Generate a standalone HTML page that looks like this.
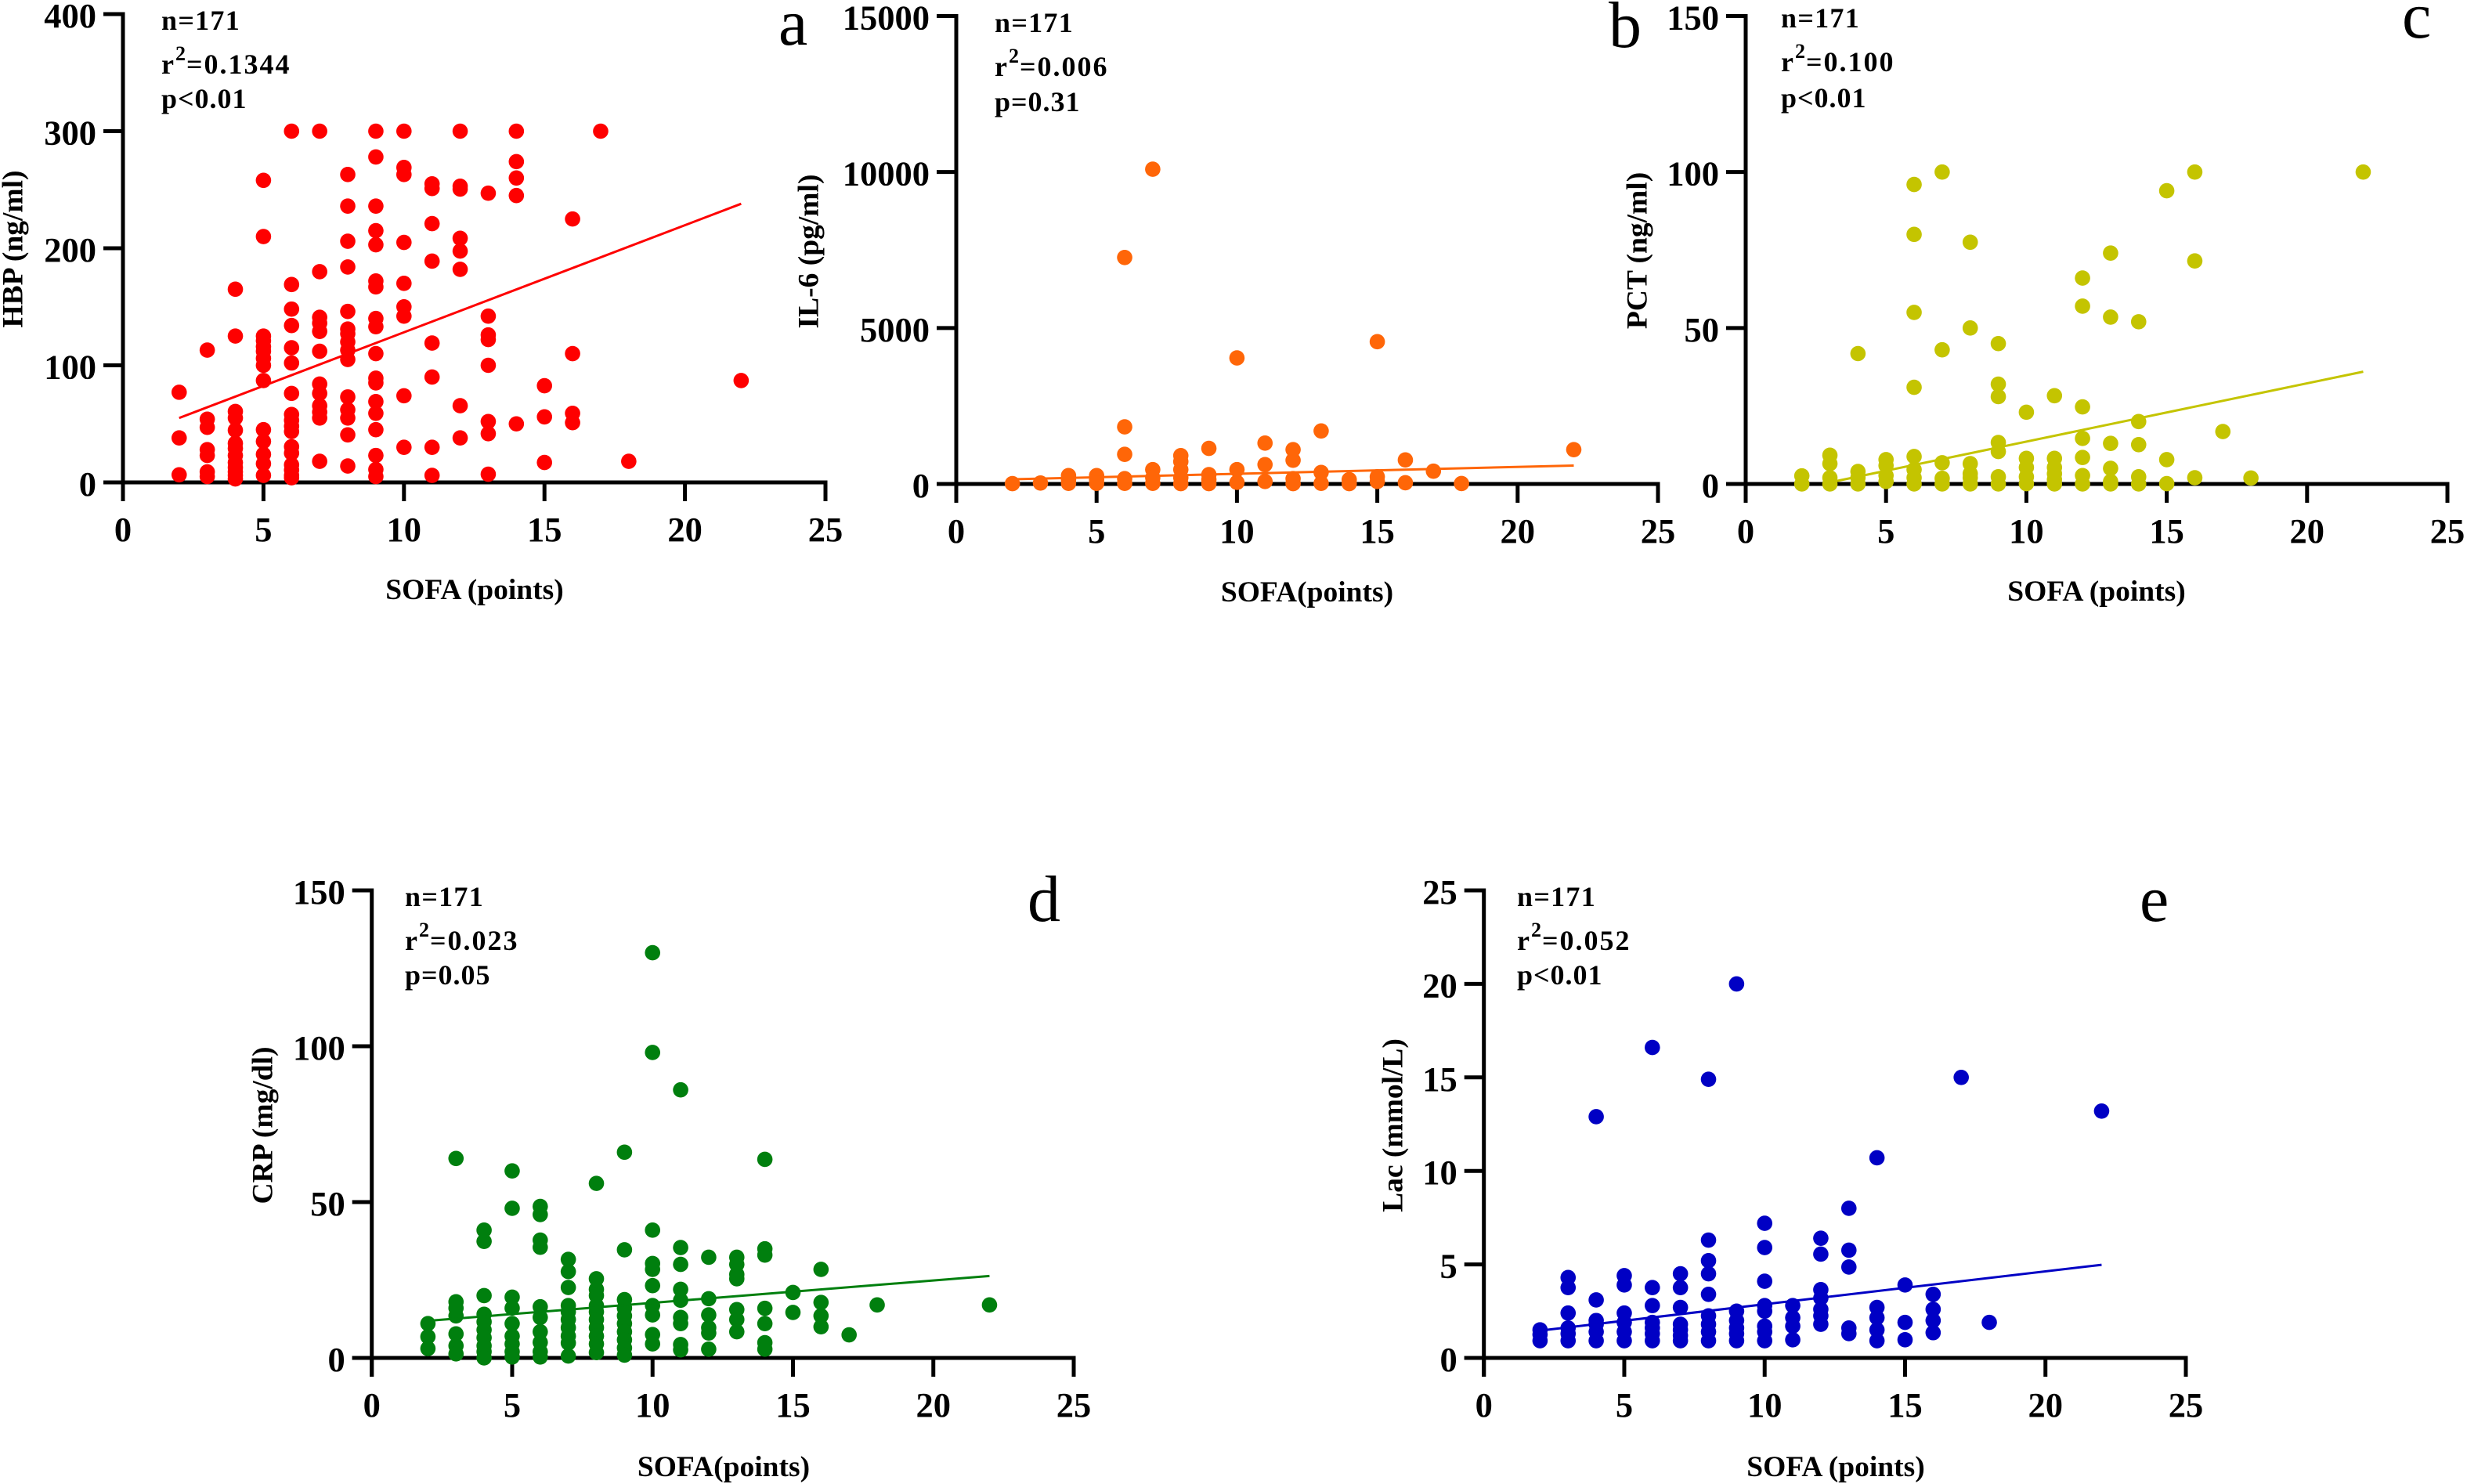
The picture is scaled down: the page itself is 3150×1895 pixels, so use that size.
<!DOCTYPE html>
<html lang="en">
<head>
<meta charset="utf-8">
<title>SOFA score correlations</title>
<style>
html,body{margin:0;padding:0;background:#fff;}
svg{display:block;}
text{font-family:"Liberation Serif",serif;fill:#000;}
.tick{font-size:44.5px;font-weight:bold;}
.title{font-size:37.5px;font-weight:bold;}
.note{font-size:36px;font-weight:bold;}
.n-line{letter-spacing:1.3px;}
.r-line{letter-spacing:2px;}
.p-line{letter-spacing:1px;}
.sup{font-size:26px;font-weight:bold;letter-spacing:1px;}
.letter{font-size:84px;font-weight:normal;}
</style>
</head>
<body>
<svg id="figure" xmlns="http://www.w3.org/2000/svg" width="3150" height="1895" viewBox="0 0 3150 1895">
  <rect width="3150" height="1895" fill="#fff"/>

  <g id="panel-a"></g>
  <g id="panel-b"></g>
  <g id="panel-c"></g>
  <g id="panel-d"></g>
  <g id="panel-e"></g>

  <!-- Panel a text -->
  <text class="note n-line" x="206" y="38">n=171</text>
  <text class="note r-line" x="206" y="94">r<tspan class="sup" dy="-17">2</tspan><tspan dy="17">=0.1344</tspan></text>
  <text class="note p-line" x="206" y="138">p&lt;0.01</text>
  <text class="letter" x="994" y="57">a</text>
  <text class="title" x="606" y="765" text-anchor="middle">SOFA (points)</text>
  <text class="title" transform="translate(28.5,318) rotate(-90)" text-anchor="middle">HBP (ng/ml)</text>

  <!-- Panel b text -->
  <text class="note n-line" x="1270" y="41">n=171</text>
  <text class="note r-line" x="1270" y="97">r<tspan class="sup" dy="-17">2</tspan><tspan dy="17">=0.006</tspan></text>
  <text class="note p-line" x="1270" y="142">p=0.31</text>
  <text class="letter" x="2054" y="60">b</text>
  <text class="title" x="1669" y="768" text-anchor="middle">SOFA(points)</text>
  <text class="title" transform="translate(1044.5,321) rotate(-90)" text-anchor="middle">IL-6 (pg/ml)</text>

  <!-- Panel c text -->
  <text class="note n-line" x="2274" y="35">n=171</text>
  <text class="note r-line" x="2274" y="91">r<tspan class="sup" dy="-17">2</tspan><tspan dy="17">=0.100</tspan></text>
  <text class="note p-line" x="2274" y="137">p&lt;0.01</text>
  <text class="letter" x="3067" y="48">c</text>
  <text class="title" x="2677" y="767" text-anchor="middle">SOFA (points)</text>
  <text class="title" transform="translate(2102.5,320) rotate(-90)" text-anchor="middle">PCT (ng/ml)</text>

  <!-- Panel d text -->
  <text class="note n-line" x="517" y="1157">n=171</text>
  <text class="note r-line" x="517" y="1213">r<tspan class="sup" dy="-17">2</tspan><tspan dy="17">=0.023</tspan></text>
  <text class="note p-line" x="517" y="1257">p=0.05</text>
  <text class="letter" x="1312" y="1176">d</text>
  <text class="title" x="924" y="1885" text-anchor="middle">SOFA(points)</text>
  <text class="title" transform="translate(347.5,1437) rotate(-90)" text-anchor="middle">CRP (mg/dl)</text>

  <!-- Panel e text -->
  <text class="note n-line" x="1937" y="1157">n=171</text>
  <text class="note r-line" x="1937" y="1213">r<tspan class="sup" dy="-17">2</tspan><tspan dy="17">=0.052</tspan></text>
  <text class="note p-line" x="1937" y="1257">p&lt;0.01</text>
  <text class="letter" x="2732" y="1176">e</text>
  <text class="title" x="2344" y="1885" text-anchor="middle">SOFA (points)</text>
  <text class="title" transform="translate(1790.5,1437) rotate(-90)" text-anchor="middle">Lac (mmol/L)</text>
</svg>

<script>
// Shared category and tick arrays
const sofaScores = [2,3,4,5,6,7,8,9,10,11,12,13,14,15,16,17,18,22];
const xTickValues = [0,5,10,15,20,25];
const hbpTicks = [0,100,200,300,400];
const il6Ticks = [0,5000,10000,15000];
const pctTicks = [0,50,100,150];
const crpTicks = [0,50,100,150];
const lacTicks = [0,5,10,15,20,25];

// Measured values, one inner list per SOFA score
const hbpValues = [
  [77,38,6.5],
  [113,54,47,28,23,9,5],
  [165,125,60.6,55,44.6,33.4,29,23,17,12.7,9,6,3],
  [258,210,125,121,116,112,106,100,87,45,35,24,16,6],
  [300,169,148,134,115,102,76,58,53,48,43.5,30.5,25,15,10.5,6,4],
  [300,180,141,136,129,112,84,76,65.5,60,55,18],
  [263,236,206,184,146,131,127,120,113,105,73,62,55,40.6,14],
  [300,278,236,215,203,172,167,140,133,110,89,85,69,59,45,23,11,5],
  [300,269,263,205,170,150,142,74,30],
  [255,251,221,189,119,90,30,6],
  [300,253,250.5,208.5,197.6,182,65.5,38],
  [247,142,126,122,100,52,41.6,7],
  [300,274,260,245,50],
  [82.6,56,17],
  [225,110,59,51],
  [300],
  [18],
  [87]
];
const il6Values = [
  [10],
  [30],
  [270,140,20],
  [270,140,20],
  [7260,1830,950,170,20],
  [10090,460,200,20],
  [910,720,460,200,10],
  [1140,300,140,10],
  [4040,460,50],
  [1310,620,80],
  [1100,760,170,10],
  [1700,370,20],
  [140,10],
  [4560,230,80],
  [770,40],
  [410],
  [15],
  [1100]
];
const pctValues = [
  [2.6,0],
  [9.2,6.5,2,0],
  [41.8,4,2,0],
  [7.8,5.9,2.7,0.8],
  [96,80,55,31,8.8,4.6,2,0],
  [100,43,6.8,1.8,0],
  [77.5,50,6.5,3.3,2,0],
  [45,32,28,13.3,10.4,2.3,0],
  [23,8.2,5.3,2.3,0.1],
  [28.3,8.2,5.3,3.3,1.4,0],
  [66,57,24.7,14.6,8.5,2.7,0],
  [74,53.5,13,5,0.8,0],
  [52,20,12.6,2.3,0],
  [94,7.8,0.1],
  [100,71.5,2],
  [16.8],
  [1.9],
  [100]
];
const crpValues = [
  [11,6.8,3],
  [64,18,16,13.5,7.7,3.9,1.3],
  [41,37.4,20,14,11.6,9,6.5,3.9,2,0],
  [60,48,19.5,16,11,7,4.5,2,0.3],
  [48.6,46,37.8,35.5,16.4,13,8.4,5,2,0.3],
  [31.6,27.7,22.6,16.8,14.8,12.3,9.7,7,4.8,0.6],
  [56,25.4,22,20,16.8,14.8,12.3,9.7,7,4.5,1.7],
  [66,34.7,18.7,16,13.5,11,8.4,5.8,3.2,0.9],
  [130,98,41,30.3,28.4,23.2,16.8,13.8,7.5,4.5],
  [86,35.4,30,22,18.5,13,11,4.3,2.6],
  [32.3,19,13.8,9.7,8,2.8],
  [32.3,30,26.8,25.4,15.5,12.3,8.4],
  [63.7,35,33,15.9,11,4.9,2.8],
  [21,14.6],
  [28.4,17.8,13.5,10],
  [7.4],
  [17],
  [17]
];
const lacValues = [
  [1.5,1.25,0.92],
  [4.3,3.76,2.4,1.6,1.3,0.92],
  [12.9,3.1,2,1.8,1.4,0.92],
  [4.4,3.9,2.4,1.9,1.4,0.92],
  [16.6,3.76,2.8,1.9,1.6,1.3,0.92],
  [4.5,3.76,2.7,1.8,1.5,1.2,0.92],
  [14.9,6.3,5.2,4.5,3.4,2.25,1.8,1.4,0.92],
  [20,2.5,2,1.6,1.3,0.92],
  [7.2,5.9,4.1,2.8,2.5,1.7,1.4,0.92],
  [2.8,2.15,1.7,0.97],
  [6.4,5.55,3.65,3.2,2.6,2.25,1.8],
  [8,5.76,4.86,1.6,1.3],
  [10.7,2.7,2.15,1.5,0.92],
  [3.9,1.9,0.97],
  [3.4,2.6,2,1.35],
  [15],
  [1.9],
  [13.2]
];

// Regression line end points
const hbpFitX = [2,22];
const hbpFitY = [55,238];
const il6FitX = [2,22];
const il6FitY = [150,590];
const pctFitX = [3,22];
const pctFitY = [0.5,36];
const crpFitX = [2,22];
const crpFitY = [11.9,26.3];
const lacFitX = [2,22];
const lacFitY = [1.46,4.98];

const SVG_NS = 'http://www.w3.org/2000/svg';

function make(tag, parent, props) {
  const node = document.createElementNS(SVG_NS, tag);
  for (const key in props) node.setAttribute(key, props[key]);
  parent.appendChild(node);
  return node;
}

function linearScale(d0, d1, r0, r1) {
  return function (v) {
    return r0 + (v - d0) * (r1 - r0) / (d1 - d0);
  };
}

function drawPanel(cfg) {
  const group = document.getElementById(cfg.id);
  const yTicks = cfg.yTicks;
  const sx = linearScale(0, 25, cfg.left, cfg.right);
  const sy = linearScale(0, yTicks[yTicks.length - 1], cfg.bottom, cfg.top);
  const axisWidth = 5;

  const xAxis = make('line', group, {x1: cfg.left - 25, x2: cfg.right + axisWidth / 2, y1: cfg.bottom, y2: cfg.bottom, stroke: '#000', 'stroke-width': axisWidth});
  
  

  const yAxis = make('line', group, {x1: cfg.left, x2: cfg.left, y1: cfg.top - axisWidth / 2, y2: cfg.bottom + 24, stroke: '#000', 'stroke-width': axisWidth});
  
  

  xTickValues.forEach(function (t) {
    const mark = make('line', group, {x1: sx(t), x2: sx(t), y1: cfg.bottom, y2: cfg.bottom + 24, stroke: '#000', 'stroke-width': axisWidth});
    
    
    const label = make('text', group, {x: sx(t), y: cfg.bottom + 75, 'text-anchor': 'middle', class: 'tick'});
    label.textContent = String(t);
    
    
  });

  yTicks.forEach(function (t) {
    const mark = make('line', group, {x1: cfg.left - 25, x2: cfg.left, y1: sy(t), y2: sy(t), stroke: '#000', 'stroke-width': axisWidth});
    
    
    const label = make('text', group, {x: cfg.left - 34, y: sy(t) + 17, 'text-anchor': 'end', class: 'tick'});
    label.textContent = String(t);
    
    
  });

  sofaScores.forEach(function (score, i) {
    cfg.values[i].forEach(function (v) {
      const dot = make('circle', group, {cx: sx(score), cy: sy(v), r: 9.8, fill: cfg.color});
      
      
    });
  });

  const fit = make('line', group, {
    x1: sx(cfg.fitX[0]), y1: sy(cfg.fitY[0]),
    x2: sx(cfg.fitX[1]), y2: sy(cfg.fitY[1]),
    stroke: cfg.color, 'stroke-width': 3
  });
  
  
}

drawPanel({id: 'panel-a', left: 157, right: 1054, top: 18, bottom: 616, color: '#fe0000', yTicks: hbpTicks, values: hbpValues, fitX: hbpFitX, fitY: hbpFitY});
drawPanel({id: 'panel-b', left: 1221, right: 2117, top: 20.5, bottom: 618, color: '#ff6608', yTicks: il6Ticks, values: il6Values, fitX: il6FitX, fitY: il6FitY});
drawPanel({id: 'panel-c', left: 2229, right: 3125, top: 20.5, bottom: 618, color: '#c4c400', yTicks: pctTicks, values: pctValues, fitX: pctFitX, fitY: pctFitY});
drawPanel({id: 'panel-d', left: 474.7, right: 1371, top: 1137, bottom: 1734, color: '#007f0e', yTicks: crpTicks, values: crpValues, fitX: crpFitX, fitY: crpFitY});
drawPanel({id: 'panel-e', left: 1894.7, right: 2791, top: 1137, bottom: 1734, color: '#0000c4', yTicks: lacTicks, values: lacValues, fitX: lacFitX, fitY: lacFitY});
</script>
</body>
</html>
